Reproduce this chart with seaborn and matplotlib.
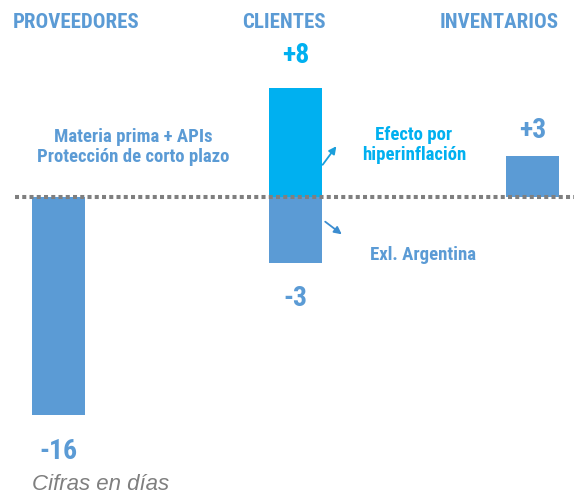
import pandas as pd
import numpy as np
import seaborn as sns
from matplotlib import pyplot as plt

# Values (days)
categories = ["PROVEEDORES", "CLIENTES", "CLIENTES", "INVENTARIOS"]
segments = ["base", "hiper", "base", "base"]
bar_heights = [-16, 8, -4.85, 3]
value_labels = ["-16", "+8", "-3", "+3"]
headers = ["PROVEEDORES", "CLIENTES", "INVENTARIOS"]

BLUE = "#5B9BD5"
CYAN = "#00B0F0"
GREY = "#7F7F7F"
FONT = "Roboto Condensed"


# pixel -> data helper for free-standing texts (zero line at y=197 px, 13.6 px per day, 237 px between bars)
def px(x, y):
    return (x - 58.5) / 237, (197 - y) / 13.6


def plot_data(filename):
    df = pd.DataFrame({"category": categories, "segment": segments, "value": bar_heights})
    fig = plt.figure(figsize=(5.74, 4.97), dpi=100)
    ax = fig.add_axes([0, 0, 1, 1])
    sns.barplot(data=df, x="category", y="value", hue="segment", order=headers,
                palette={"base": BLUE, "hiper": CYAN}, dodge=False, width=0.224,
                saturation=1, errorbar=None, legend=False, ax=ax)
    ax.set_xlim(px(0, 0)[0], px(574, 0)[0])
    ax.set_ylim(px(0, 497)[1], px(0, 0)[1])
    ax.axis("off")

    # dotted zero line
    ax.axhline(0, xmin=15 / 574, xmax=1, color=GREY, lw=2.9, dashes=(1.0, 0.8),
               dash_capstyle="butt", zorder=5)

    # headers
    for name, xc in zip(headers, [76, 284, 499]):
        ax.text(*px(xc, 23), name, ha="center", va="center", color=BLUE,
                fontsize=15, fontweight="bold", family=FONT)

    # value labels (offset in px from bar end)
    offsets = [-37, 33, -36, 26]
    xpos = {h: i for i, h in enumerate(headers)}
    for cat, seg, val, lab, off in zip(categories, segments, bar_heights, value_labels, offsets):
        col = CYAN if seg == "hiper" else BLUE
        ax.annotate(lab, (xpos[cat], val), xytext=(0, off * 0.72), textcoords="offset points",
                    ha="center", va="center", color=col, fontsize=20,
                    fontweight="bold", family=FONT)

    ax.text(*px(133, 147), "Materia prima + APIs\nProtección de corto plazo", ha="center",
            va="center", color=BLUE, fontsize=13.5, fontweight="bold", family=FONT,
            linespacing=1.2)
    ax.text(*px(414, 145), "Efecto por\nhiperinflación", ha="center", va="center",
            color=CYAN, fontsize=13.5, fontweight="bold", family=FONT, linespacing=1.2)
    ax.text(*px(423, 255), "Exl. Argentina", ha="center", va="center",
            color=BLUE, fontsize=13.5, fontweight="bold", family=FONT)

    ax.annotate("", xy=px(338, 144), xytext=px(321, 167),
                arrowprops=dict(arrowstyle="-|>", color="#1A9FDB", lw=1.3, mutation_scale=11))
    ax.annotate("", xy=px(344, 236), xytext=px(323, 220),
                arrowprops=dict(arrowstyle="-|>", color="#3C8DD0", lw=1.3, mutation_scale=11))

    ax.text(*px(32, 484), "Cifras en días", ha="left", va="center", color=GREY,
            fontsize=16, fontstyle="italic", family="Liberation Sans")

    plt.savefig(filename, dpi=100)
    print("Figure saved.")


plot_data("out.png")
